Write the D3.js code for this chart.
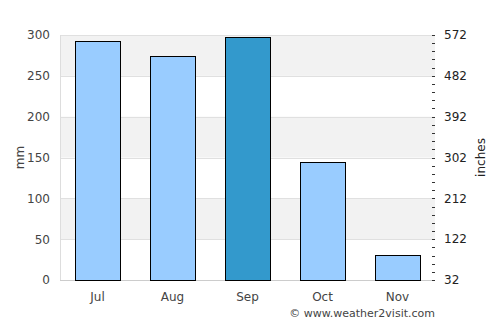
<!DOCTYPE html>
<html>
<head>
<meta charset="utf-8">
<script src="https://cdn.jsdelivr.net/npm/d3@7"></script>
<style>
  body { margin: 0; background: #fff; }
  text { font-family: "DejaVu Sans", sans-serif; }
</style>
</head>
<body>
<div class="chart"></div>
<script>
// data
let months = ['Jul', 'Aug', 'Sep', 'Oct', 'Nov']
let rainfall = [292.7, 273.7, 297.2, 145, 30.5]
let highlightMonth = 'Sep'
let leftTicks = [0, 50, 100, 150, 200, 250, 300]
let rightTickLabels = ['32', '122', '212', '302', '392', '482', '572']

let svgWidth = 500
let svgHeight = 325
let margin = { left: 60, right: 65, top: 35, bottom: 45 }
let width = svgWidth - margin.left - margin.right
let height = svgHeight - margin.top - margin.bottom

let svg = d3.select('.chart')
    .append('svg')
    .attr('width', svgWidth)
    .attr('height', svgHeight)

let g = svg.append('g')
    .attr('transform', `translate(${margin.left},${margin.top})`)

let xScale = d3.scaleBand()
    .domain(months)
    .range([0, width])
    .paddingInner(0.4)
    .paddingOuter(0.2)

let yScale = d3.scaleLinear()
    .domain([0, 300])
    .range([height, 0])

// alternating bands
for (let i = 0; i < leftTicks.length - 1; i++) {
    if (i % 2 == 1) {
        g.append('rect')
            .attr('x', 0)
            .attr('y', yScale(leftTicks[i + 1]))
            .attr('width', width)
            .attr('height', yScale(leftTicks[i]) - yScale(leftTicks[i + 1]))
            .attr('fill', '#f2f2f2')
    }
}

// grid lines
g.selectAll('.grid')
    .data(leftTicks)
    .enter()
    .append('line')
    .attr('x1', 0)
    .attr('x2', width)
    .attr('y1', d => Math.round(yScale(d)) + 0.5)
    .attr('y2', d => Math.round(yScale(d)) + 0.5)
    .attr('stroke', '#e0e0e0')
    .attr('stroke-width', 1)

// left axis line
g.append('line')
    .attr('x1', 0.5).attr('x2', 0.5)
    .attr('y1', 0).attr('y2', height)
    .attr('stroke', '#dddddd')

// bottom axis line
g.append('line')
    .attr('x1', 0).attr('x2', width)
    .attr('y1', height + 0.5).attr('y2', height + 0.5)
    .attr('stroke', '#cccccc')

// bars
g.selectAll('.bar')
    .data(months)
    .enter()
    .append('rect')
    .attr('x', d => Math.round(xScale(d)) + 0.5)
    .attr('y', (d, i) => Math.round(yScale(rainfall[i])) + 0.5)
    .attr('width', Math.round(xScale.bandwidth()))
    .attr('height', (d, i) => Math.round(height - yScale(rainfall[i])))
    .attr('fill', d => d == highlightMonth ? '#3399cc' : '#99ccff')
    .attr('stroke', '#000')
    .attr('stroke-width', 1)

// left axis labels
let yAxis = d3.axisLeft(yScale)
    .tickValues(leftTicks)
    .tickSize(0)
    .tickPadding(10)
g.append('g')
    .call(yAxis)
    .call(a => a.select('.domain').remove())
    .selectAll('text')
    .attr('font-size', 12)
    .attr('fill', '#444')

// right axis: minor ticks + labels
let rightScale = d3.scaleLinear()
    .domain([0, 6])
    .range([height, 0])
let minorTicks = d3.range(0, 6.01, 0.2)
g.selectAll('.minor')
    .data(minorTicks)
    .enter()
    .append('line')
    .attr('x1', width - 3)
    .attr('x2', width)
    .attr('y1', d => Math.round(rightScale(d)) + 0.5)
    .attr('y2', d => Math.round(rightScale(d)) + 0.5)
    .attr('stroke', '#333')

g.selectAll('.rlabel')
    .data(rightTickLabels)
    .enter()
    .append('text')
    .attr('x', width + 9)
    .attr('y', (d, i) => rightScale(i))
    .attr('dy', '0.35em')
    .attr('font-size', 12)
    .attr('fill', '#222')
    .text(d => d)

// x axis labels
let xAxis = d3.axisBottom(xScale).tickSize(0).tickPadding(12)
g.append('g')
    .attr('transform', `translate(0,${height})`)
    .call(xAxis)
    .call(a => a.select('.domain').remove())
    .selectAll('text')
    .attr('font-size', 12)
    .attr('fill', '#444')

// axis titles
svg.append('text')
    .attr('transform', 'rotate(-90)')
    .attr('x', -(margin.top + height / 2))
    .attr('y', 24)
    .style('text-anchor', 'middle')
    .attr('font-size', 12)
    .attr('fill', '#444')
    .text('mm')

svg.append('text')
    .attr('transform', 'rotate(-90)')
    .attr('x', -(margin.top + height / 2))
    .attr('y', 485)
    .style('text-anchor', 'middle')
    .attr('font-size', 12)
    .attr('fill', '#222')
    .text('inches')

// credit
svg.append('text')
    .attr('x', 435)
    .attr('y', 317)
    .style('text-anchor', 'end')
    .attr('font-size', 11)
    .attr('fill', '#444')
    .text('© www.weather2visit.com')
</script>
</body>
</html>
